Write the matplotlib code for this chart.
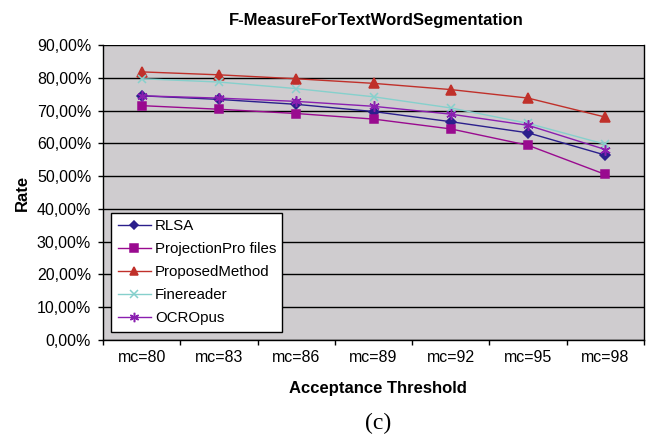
import numpy as np
import matplotlib
matplotlib.use("Agg")
import matplotlib.pyplot as plt
from matplotlib.ticker import FuncFormatter, FixedLocator

# === DATA ===
categories = ["mc=80", "mc=83", "mc=86", "mc=89", "mc=92", "mc=95", "mc=98"]
rlsa = [74.5, 73.4, 71.9, 69.7, 66.6, 63.2, 56.4]
projection = [71.5, 70.4, 69.1, 67.4, 64.4, 59.4, 50.5]
proposed = [81.8, 80.9, 79.7, 78.3, 76.4, 73.8, 68.0]
finereader = [79.7, 78.7, 76.7, 74.2, 70.8, 66.1, 59.7]
ocropus = [74.5, 73.8, 72.8, 71.3, 68.9, 65.5, 58.1]
series_names = ["RLSA", "ProjectionPro files", "ProposedMethod", "Finereader", "OCROpus"]

plt.rcParams["font.family"] = ["Liberation Sans", "DejaVu Sans"]

W, H = 651, 438
fig = plt.figure(figsize=(W / 100, H / 100), dpi=100)
# plot area in pixels: x 103..644, y 45..340
ax = fig.add_axes([103 / W, 1 - 340 / H, 541 / W, 295 / H])
ax.set_facecolor("#CFCCCF")

x = np.arange(len(categories))
styles = [
    (rlsa, "#2B1F8C", "D", 5),
    (projection, "#990A8F", "s", 6),
    (proposed, "#C0302A", "^", 6.5),
    (finereader, "#86D0CC", "x", 6),
    (ocropus, "#8A1FB0", (6, 2, 0), 7.5),
]
for (vals, col, mk, ms), name in zip(styles, series_names):
    ax.plot(x, vals, color=col, marker=mk, markersize=ms, linewidth=1.0,
            markeredgecolor=col, markerfacecolor=col, markeredgewidth=1.1,
            label=name)

ax.set_xlim(-0.5, len(categories) - 0.5)
ax.set_ylim(0, 90)
ax.set_yticks(np.arange(0, 91, 10))
ax.yaxis.set_major_formatter(FuncFormatter(lambda v, p: f"{v:.2f}%".replace(".", ",")))
ax.set_xticks(x)
ax.set_xticklabels(categories)
ax.xaxis.set_minor_locator(FixedLocator(np.arange(-0.5, len(categories), 1)))
ax.tick_params(axis="x", which="major", length=0, pad=7, labelsize=11.5)
ax.tick_params(axis="x", which="minor", length=3.5, direction="out", width=1)
ax.tick_params(axis="y", length=3.5, direction="out", width=1, labelsize=11.5, pad=5)
ax.yaxis.grid(True, color="black", linewidth=1)
ax.set_axisbelow(True)
for side in ["left", "bottom", "right"]:
    ax.spines[side].set_color("black")
    ax.spines[side].set_linewidth(1)
ax.spines["top"].set_visible(False)

ax.set_ylabel("Rate", fontsize=12, fontweight="bold")
ax.yaxis.set_label_coords(-81 / 541, 0.5)
ax.yaxis.label.set_ha("center")
ax.yaxis.label.set_va("center")
ax.yaxis.set_label_coords((22 - 103) / 541, 0.5)
ax.set_xlabel("Acceptance Threshold", fontsize=12, fontweight="bold")
ax.xaxis.set_label_coords((378 - 103) / 541, -(389 - 340) / 295)
ax.xaxis.label.set_va("center")
fig.text(376 / W, 1 - 20 / H, "F-MeasureForTextWordSegmentation",
         ha="center", va="center", fontsize=12, fontweight="bold")
fig.text(378 / W, 1 - 423 / H, "(c)", ha="center", va="center",
         fontsize=17, family=["Liberation Serif", "DejaVu Serif"])

leg = ax.legend(loc="lower left", bbox_to_anchor=(8 / 541, 8 / 295, 171 / 541, 125 / 295),
                mode="expand", frameon=True, fancybox=False, fontsize=10.8,
                handlelength=2.2, handletextpad=0.3, borderpad=0.45, labelspacing=0.6,
                borderaxespad=0, markerscale=0.9)
leg.get_frame().set_edgecolor("black")
leg.get_frame().set_linewidth(1)
leg.get_frame().set_facecolor("white")
leg.get_frame().set_alpha(1)

plt.savefig("out.png", dpi=100)
